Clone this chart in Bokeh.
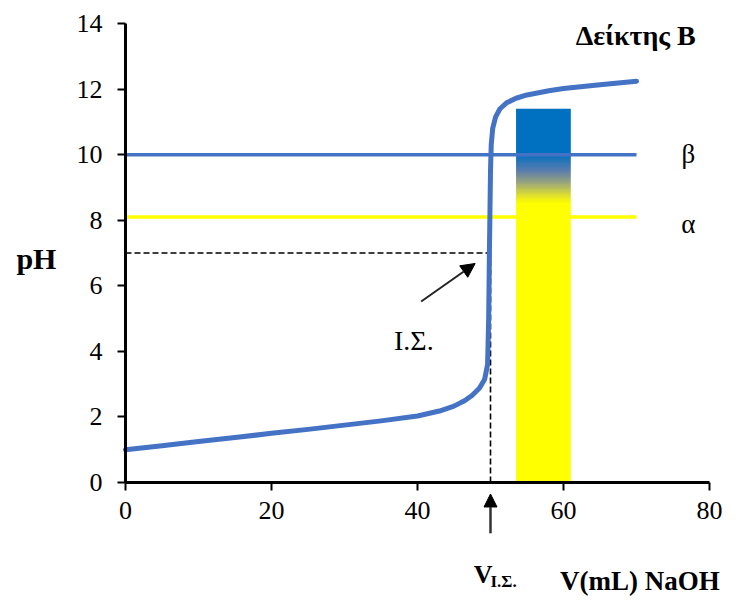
import numpy as np
from bokeh.plotting import figure
from bokeh.models import Range1d, FixedTicker, Label, Arrow, NormalHead, LinearAxis
from bokeh.embed import file_html
from bokeh.resources import INLINE

# ---- data ----
naoh_ml = [0, 5, 10, 15, 20, 25, 30, 35, 40, 43, 45, 46.5, 47.5, 48.5, 49.2, 49.6, 49.75,
           49.85, 50.0, 50.1, 50.3, 50.7, 51.3, 52.2, 53.5, 55, 58, 60, 65, 70]
ph_curve = [1.0, 1.12, 1.25, 1.37, 1.5, 1.62, 1.75, 1.88, 2.03, 2.18, 2.33, 2.5, 2.66, 2.88,
            3.15, 3.6, 5.0, 7.0, 9.5, 10.3, 10.8, 11.15, 11.4, 11.58, 11.72, 11.82, 11.95,
            12.02, 12.13, 12.24]

line_x = [0, 70]          # extent of indicator lines
ph_beta = 10.0            # upper limit of indicator range (β)
ph_alpha = 8.1            # lower limit of indicator range (α)

v_eq = 50                 # equivalence volume
ph_eq = 7                 # pH at equivalence

bar_left, bar_right = 53.5, 61.0
bar_top = 11.4

x_ticks = [0, 20, 40, 60, 80]
y_ticks = [0, 2, 4, 6, 8, 10, 12, 14]

FONT = "Liberation Serif"
W, H = 728, 597
# plot area geometry (pixels) -> data ranges covering whole canvas
X0_PX, X80_PX = 125, 709
Y0_PX, Y14_PX = 482, 23
sx = (X80_PX - X0_PX) / 80.0
sy = (Y0_PX - Y14_PX) / 14.0

p = figure(width=W, height=H, output_backend="svg", toolbar_location=None,
           x_range=Range1d(-X0_PX / sx, (W - X0_PX) / sx),
           y_range=Range1d(-(H - Y0_PX) / sy, Y0_PX / sy),
           x_axis_location=None, y_axis_location=None,
           min_border=0, min_border_left=0, min_border_right=0,
           min_border_top=0, min_border_bottom=0)
p.outline_line_color = None
p.xgrid.visible = False
p.ygrid.visible = False
p.background_fill_color = "white"

xaxis = LinearAxis(fixed_location=0, bounds=(0, 80), ticker=FixedTicker(ticks=x_ticks))
yaxis = LinearAxis(fixed_location=0, bounds=(0, 14), ticker=FixedTicker(ticks=y_ticks))
for ax in (xaxis, yaxis):
    ax.axis_line_width = 3
    ax.axis_line_color = "black"
    ax.major_tick_line_width = 2
    ax.major_tick_line_color = "black"
    ax.major_tick_out = 8
    ax.major_tick_in = 0
    ax.minor_tick_line_color = None
    ax.major_label_text_font = FONT
    ax.major_label_text_font_size = "26px"
    ax.major_label_text_color = "black"
xaxis.major_label_standoff = 11
yaxis.major_label_standoff = 15

# gradient bar (blue -> yellow) via RGBA image
stops_ph = [0.0, 8.5, 8.7, 9.1, 9.5, 10.0, bar_top]
stops_rgb = np.array([[255, 255, 0], [255, 255, 0], [230, 230, 40], [160, 170, 120],
                      [90, 125, 175], [0, 112, 192], [0, 112, 192]], dtype=float)
N = 300
ys = (np.arange(N) + 0.5) / N * bar_top
img = np.empty((N, 1), dtype=np.uint32)
view = img.view(dtype=np.uint8).reshape((N, 1, 4))
for c in range(3):
    view[:, 0, c] = np.interp(ys, stops_ph, stops_rgb[:, c]).astype(np.uint8)
view[:, 0, 3] = 255
p.image_rgba(image=[img], x=bar_left, y=0, dw=bar_right - bar_left, dh=bar_top)

# indicator lines
p.line(line_x, [ph_beta, ph_beta], line_color="#4472C4", line_width=3.5)
p.line(line_x, [ph_alpha, ph_alpha], line_color="#FFFF00", line_width=3.5)

# dashed equivalence lines
p.line([0, v_eq], [ph_eq, ph_eq], line_color="black", line_width=1.6, line_dash="6 3")
p.line([v_eq, v_eq], [0, ph_eq], line_color="black", line_width=1.6, line_dash="6 3")

# titration curve
p.line(naoh_ml, ph_curve, line_color="#4472C4", line_width=5, line_join="round", line_cap="round")

# axes drawn on top
p.add_layout(xaxis, "below")
p.add_layout(yaxis, "left")

# arrows
p.add_layout(Arrow(x_start=40.5, y_start=5.52, x_end=47.9, y_end=6.68, line_width=2,
                   line_color="#222222",
                   end=NormalHead(size=14, fill_color="black", line_color="black")))
p.add_layout(Arrow(x_start=v_eq, y_start=-1.55, x_end=v_eq, y_end=-0.35, line_width=2.5,
                   line_color="#333333",
                   end=NormalHead(size=13, fill_color="black", line_color="black")))

def lab(x, y, text, size, bold=False, align="center", baseline="middle"):
    p.add_layout(Label(x=x, y=y, text=text, text_font=FONT, text_font_size=size,
                       text_font_style="bold" if bold else "normal", text_color="black",
                       text_align=align, text_baseline=baseline))

lab(-12.2, 6.83, "pH", "30px", bold=True)
lab(69.9, 13.63, "Δείκτης Β", "28px", bold=True)
lab(77.1, 10.03, "β", "27px")
lab(77.1, 7.87, "α", "27px")
lab(39.5, 4.33, "Ι.Σ.", "28px")
lab(81.4, -2.99, "V(mL) NaOH", "27px", bold=True, align="right", baseline="alphabetic")
lab(47.7, -2.81, "V", "26px", bold=True, align="left", baseline="alphabetic")
lab(50.0, -3.02, "Ι.Σ.", "17px", bold=True, align="left", baseline="alphabetic")

open("out.html", "w").write(file_html(p, INLINE))
